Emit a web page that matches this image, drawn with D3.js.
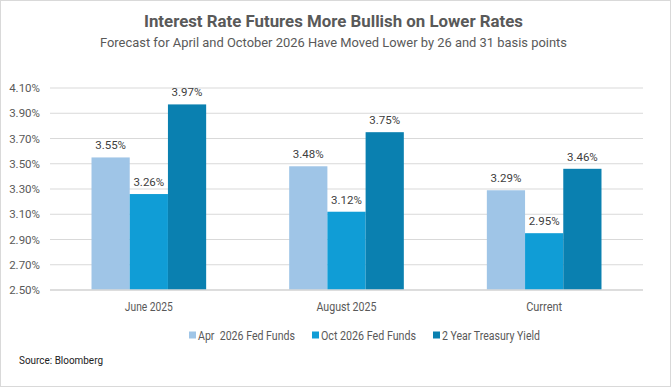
<!DOCTYPE html>
<html lang="en">
<head>
  <meta charset="UTF-8">
  <script src="https://d3js.org/d3.v7.min.js"></script>
  <style>
    body { margin: 0; background: white; }
    text { font-family: Roboto, "Liberation Sans", sans-serif; }
  </style>
</head>
<body>
  <div id="chart"></div>
  <script>
    const categories = ["June 2025", "August 2025", "Current"];
    const seriesNames = ["Apr  2026 Fed Funds", "Oct 2026 Fed Funds", "2 Year Treasury Yield"];
    const aprFedFunds = [3.55, 3.48, 3.29];
    const octFedFunds = [3.26, 3.12, 2.95];
    const twoYearYield = [3.97, 3.75, 3.46];
    const yTicks = [2.5, 2.7, 2.9, 3.1, 3.3, 3.5, 3.7, 3.9, 4.1];
    const colors = ["#9fc5e7", "#109dd6", "#0a80b0"];

    const W = 671, H = 387;
    const margin = { top: 88, right: 28, bottom: 97, left: 50 };
    const width = W - margin.left - margin.right;
    const height = H - margin.top - margin.bottom;

    const svg = d3.select("#chart").append("svg")
      .attr("width", W).attr("height", H);

    // frame
    svg.append("rect")
      .attr("x", 0.5).attr("y", 0.5)
      .attr("width", W - 1).attr("height", H - 1)
      .attr("fill", "white").attr("stroke", "#d9d9d9");

    // titles squeezed to the narrow look of the original
    svg.append("text")
      .attr("x", 144).attr("y", 27)
      .attr("font-size", 17).attr("font-weight", 700)
      .attr("fill", "#595959")
      .attr("textLength", 379).attr("lengthAdjust", "spacingAndGlyphs")
      .text("Interest Rate Futures More Bullish on Lower Rates");

    svg.append("text")
      .attr("x", 100).attr("y", 47)
      .attr("font-size", 13.5)
      .attr("fill", "#595959")
      .attr("textLength", 467).attr("lengthAdjust", "spacingAndGlyphs")
      .text("Forecast for April and October 2026 Have Moved Lower by 26 and 31 basis points");

    const g = svg.append("g").attr("transform", `translate(${margin.left},${margin.top})`);

    const x0 = d3.scaleBand().domain(categories).range([0, width]).paddingInner(0.42).paddingOuter(0.21);
    const x1 = d3.scaleBand().domain(d3.range(3)).range([0, x0.bandwidth()]);
    const y = d3.scaleLinear().domain([2.5, 4.1]).range([height, 0]);

    // grid
    g.selectAll(".grid").data(yTicks).enter().append("line")
      .attr("x1", 0).attr("x2", width)
      .attr("y1", d => y(d)).attr("y2", d => y(d))
      .attr("stroke", "#d9d9d9").attr("stroke-width", 1);

    const yAxis = d3.axisLeft(y).tickValues(yTicks).tickSize(0).tickPadding(10)
      .tickFormat(d => d.toFixed(2) + "%");
    g.append("g").call(yAxis)
      .call(s => s.select(".domain").remove())
      .selectAll("text").attr("font-size", 11.5).attr("fill", "#595959")
      .style("font-family", "Roboto, sans-serif");

    const series = [aprFedFunds, octFedFunds, twoYearYield];
    const rows = categories.map((c, i) => ({ cat: c, vals: series.map(s => s[i]) }));

    const groups = g.selectAll(".grp").data(rows).enter().append("g")
      .attr("transform", d => `translate(${x0(d.cat)},0)`);

    groups.selectAll("rect").data(d => d.vals).enter().append("rect")
      .attr("x", (d, i) => x1(i))
      .attr("y", d => y(d))
      .attr("width", x1.bandwidth())
      .attr("height", d => height - y(d))
      .attr("fill", (d, i) => colors[i]);

    groups.selectAll(".lbl").data(d => d.vals).enter().append("text")
      .attr("x", (d, i) => x1(i) + x1.bandwidth() / 2)
      .attr("y", d => y(d) - 8)
      .attr("text-anchor", "middle")
      .attr("font-size", 11.5).attr("fill", "#404040")
      .text(d => d.toFixed(2) + "%");

    // baseline
    g.append("line").attr("x1", 0).attr("x2", width)
      .attr("y1", height).attr("y2", height)
      .attr("stroke", "#d9d9d9").attr("stroke-width", 1.5);

    const catWidths = [48, 60, 36];
    const xAxis = d3.axisBottom(x0).tickSize(0).tickPadding(12);
    g.append("g").attr("transform", `translate(0,${height})`).call(xAxis)
      .call(s => s.select(".domain").remove())
      .selectAll("text").attr("font-size", 12).attr("fill", "#595959")
      .attr("textLength", (d, i) => catWidths[i]).attr("lengthAdjust", "spacingAndGlyphs");

    // legend
    const legendX = [189, 312, 433];
    const legendW = [97, 95, 98];
    const leg = svg.selectAll(".leg").data(seriesNames).enter().append("g")
      .attr("transform", (d, i) => `translate(${legendX[i]},335)`);
    leg.append("rect").attr("x", 0).attr("y", -3.5).attr("width", 7).attr("height", 7)
      .attr("fill", (d, i) => colors[i]);
    leg.append("text").attr("x", 9).attr("y", 4.5)
      .attr("font-size", 12).attr("fill", "#595959")
      .style("white-space", "pre")
      .attr("textLength", (d, i) => legendW[i]).attr("lengthAdjust", "spacingAndGlyphs")
      .text(d => d);

    svg.append("text").attr("x", 19).attr("y", 364)
      .attr("font-size", 11.5).attr("fill", "#222")
      .attr("textLength", 84).attr("lengthAdjust", "spacingAndGlyphs")
      .text("Source: Bloomberg");
  </script>
</body>
</html>
